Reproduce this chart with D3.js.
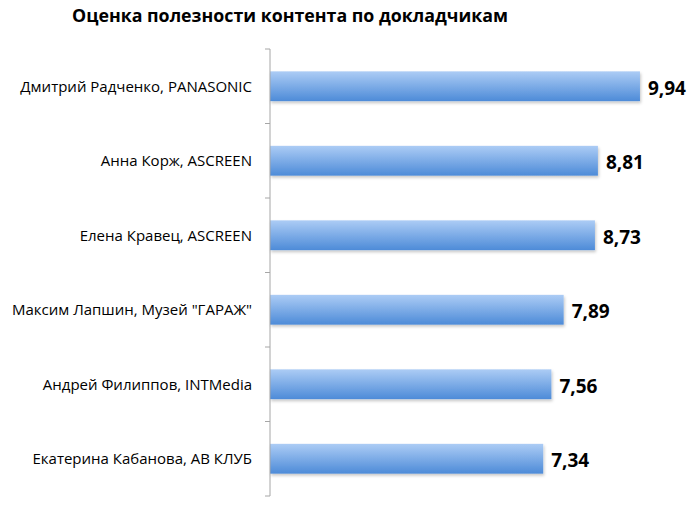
<!DOCTYPE html>
<html><head><meta charset="utf-8">
<script src="https://cdn.jsdelivr.net/npm/d3@7"></script>
<style>body{margin:0;background:#fff}</style>
</head><body>
<script>
const categories = ["Дмитрий Радченко, PANASONIC","Анна Корж, ASCREEN","Елена Кравец, ASCREEN","Максим Лапшин, Музей \"ГАРАЖ\"","Андрей Филиппов, INTMedia","Екатерина Кабанова, АВ КЛУБ"];
const values = [9.94, 8.81, 8.73, 7.89, 7.56, 7.34];
const valueLabels = ["9,94","8,81","8,73","7,89","7,56","7,34"];
const title = "Оценка полезности контента по докладчикам";

const W=690,H=505;
const svg=d3.select("body").append("svg").attr("width",W).attr("height",H);
const defs=svg.append("defs");
const g=defs.append("linearGradient").attr("id","bg").attr("x1",0).attr("y1",0).attr("x2",0).attr("y2",1);
g.append("stop").attr("offset","0%").attr("stop-color","#acccf5");
g.append("stop").attr("offset","100%").attr("stop-color","#4d8bd8");
const f=defs.append("filter").attr("id","sh").attr("x","-5%").attr("y","-20%").attr("width","110%").attr("height","160%");
f.append("feDropShadow").attr("dx",1).attr("dy",2).attr("stdDeviation",1.5).attr("flood-color","#000").attr("flood-opacity",0.22);

const x=d3.scaleLinear().domain([0,10]).range([270,642.2]);
const y=d3.scaleBand().domain(categories).range([49,496]).paddingInner(0.6).paddingOuter(0.3);

svg.append("text").attr("x",72).attr("y",22).attr("font-family","Open Sans, sans-serif").attr("font-weight","bold").attr("font-size",17.8).attr("fill","#000").text(title);

svg.selectAll("rect.bar").data(values).enter().append("rect").attr("class","bar")
 .attr("x",x(0)).attr("y",(d,i)=>y(categories[i])).attr("width",d=>x(d)-x(0)).attr("height",y.bandwidth())
 .attr("fill","url(#bg)").attr("filter","url(#sh)");

// axis
const band=(496-49)/categories.length;
const ticks=d3.range(categories.length+1).map(i=>49+i*band);
svg.append("line").attr("x1",270).attr("x2",270).attr("y1",49).attr("y2",496).attr("stroke","#a6a6a6").attr("stroke-width",1);
svg.selectAll("line.t").data(ticks).enter().append("line").attr("class","t")
 .attr("x1",265).attr("x2",270).attr("y1",d=>d).attr("y2",d=>d).attr("stroke","#a6a6a6");

svg.selectAll("text.cat").data(categories).enter().append("text").attr("class","cat")
 .attr("x",252).attr("y",d=>y(d)+y.bandwidth()/2).attr("dy","0.35em").attr("text-anchor","end")
 .attr("font-family","Open Sans, sans-serif").attr("font-size",15).attr("fill","#000").text(d=>d);

svg.selectAll("text.val").data(values).enter().append("text").attr("class","val")
 .attr("x",d=>x(d)+8).attr("y",(d,i)=>y(categories[i])+y.bandwidth()/2+2).attr("dy","0.35em")
 .attr("font-family","Open Sans, sans-serif").attr("font-weight","bold").attr("font-size",19).attr("fill","#000").text((d,i)=>valueLabels[i]);
</script>
</body></html>
